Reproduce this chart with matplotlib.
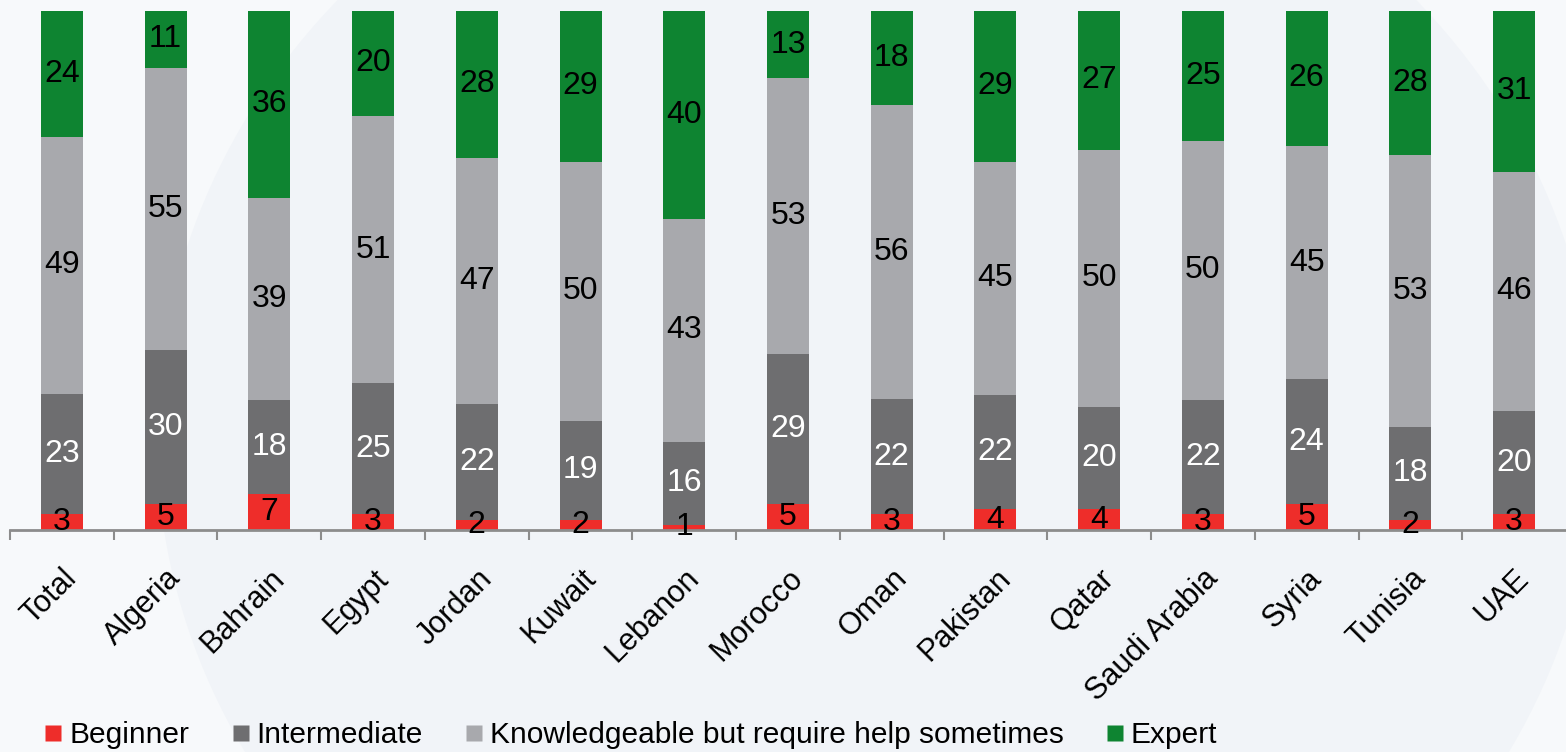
import numpy as np
import matplotlib.pyplot as plt
from matplotlib.lines import Line2D
from matplotlib.patches import Ellipse

plt.rcParams['font.family'] = ['Liberation Sans', 'DejaVu Sans']

countries = ['Total', 'Algeria', 'Bahrain', 'Egypt', 'Jordan', 'Kuwait', 'Lebanon',
             'Morocco', 'Oman', 'Pakistan', 'Qatar', 'Saudi Arabia', 'Syria',
             'Tunisia', 'UAE']

beginner = [3, 5, 7, 3, 2, 2, 1, 5, 3, 4, 4, 3, 5, 2, 3]
intermediate = [23, 30, 18, 25, 22, 19, 16, 29, 22, 22, 20, 22, 24, 18, 20]
knowledgeable = [49, 55, 39, 51, 47, 50, 43, 53, 56, 45, 50, 50, 45, 53, 46]
expert = [24, 11, 36, 20, 28, 29, 40, 13, 18, 29, 27, 25, 26, 28, 31]

series = ['Beginner', 'Intermediate', 'Knowledgeable but require help sometimes', 'Expert']
cores = ['#ee2d2a', '#6e6e70', '#a8a9ad', '#0e8431']
cor_texto = ['black', 'white', 'black', 'black']

dados = np.array([beginner, intermediate, knowledgeable, expert], dtype=float)
# cada coluna vira 100%
pct = dados / dados.sum(axis=0) * 100

fig = plt.figure(figsize=(15.66, 7.52), dpi=100, facecolor='#f7f9fb')
fig.patches.append(Ellipse((0.56, 0.42), 0.92, 1.75, transform=fig.transFigure,
                           facecolor='#f1f4f8', edgecolor='none', zorder=-10))

ax = fig.add_axes([10 / 1566, 1 - 530 / 752, 1 - 10 / 1566, (530 - 11) / 752])
ax.set_facecolor('none')

x = np.arange(len(countries))
base = np.zeros(len(countries))
for i in range(4):
    ax.bar(x, pct[i], 0.405, bottom=base, color=cores[i], label=series[i], zorder=2)
    for j in range(len(countries)):
        ax.text(x[j], base[j] + pct[i][j] / 2, '%d' % dados[i][j], ha='center', va='center',
                fontsize=23, color=cor_texto[i], zorder=3, clip_on=False)
    base += pct[i]

ax.set_xlim(-0.5, len(countries) - 0.5)
ax.set_ylim(0, 100)

for lado in ['top', 'right', 'left']:
    ax.spines[lado].set_visible(False)
ax.spines['bottom'].set_color('#8c8c8c')
ax.spines['bottom'].set_linewidth(2)
ax.set_yticks([])

ax.set_xticks(x)
ax.set_xticklabels(countries, rotation=45, ha='right', rotation_mode='anchor', fontsize=22)
ax.tick_params(axis='x', which='major', length=0, pad=24)
ax.set_xticks(np.arange(-0.5, len(countries) - 0.5, 1), minor=True)
ax.tick_params(axis='x', which='minor', length=7, width=1.5, color='#8c8c8c')

handles = [Line2D([], [], marker='s', linestyle='none', markersize=11,
                  markerfacecolor=c, markeredgecolor='none') for c in cores]
fig.legend(handles, series, loc='lower left', bbox_to_anchor=(0.027, 0.0), ncol=4,
           frameon=False, fontsize=21.5, handlelength=0.55, handletextpad=0.25,
           columnspacing=1.45, borderpad=0.1, borderaxespad=0)

fig.savefig('out.png', dpi=100, facecolor=fig.get_facecolor())
